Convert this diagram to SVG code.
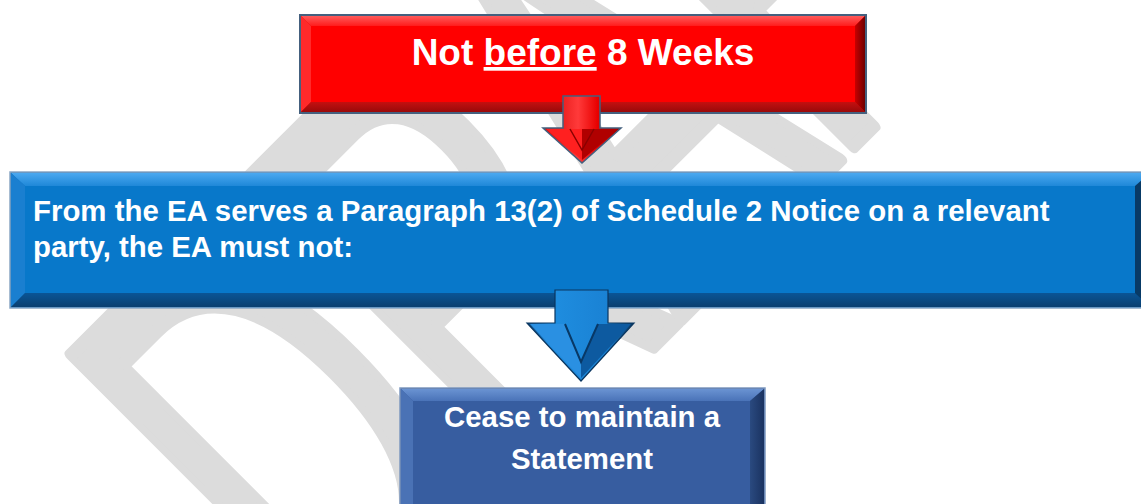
<svg xmlns="http://www.w3.org/2000/svg" width="1141" height="504" viewBox="0 0 1141 504">
  <defs>
    <style>
      .lbl { font-family: "Liberation Sans", Arial, sans-serif; font-weight: bold; fill: #ffffff; }
      .wm { font-family: "Liberation Sans", Arial, sans-serif; fill: #dcdcdc; stroke: #dcdcdc; stroke-width: 8; stroke-linejoin: round; }
    </style>
    <!-- red bevel -->
    <linearGradient id="redTop" x1="0" y1="0" x2="0" y2="1">
      <stop offset="0" stop-color="#ff5a5a"/>
      <stop offset="1" stop-color="#ff1c1c"/>
    </linearGradient>
    <linearGradient id="redRight" x1="0" y1="0" x2="1" y2="0">
      <stop offset="0" stop-color="#c80000"/>
      <stop offset="1" stop-color="#6e0000"/>
    </linearGradient>
    <linearGradient id="redBottom" x1="0" y1="0" x2="0" y2="1">
      <stop offset="0" stop-color="#c41010"/>
      <stop offset="1" stop-color="#9a0a0a"/>
    </linearGradient>
    <linearGradient id="redShaft" x1="0" y1="0" x2="1" y2="0">
      <stop offset="0" stop-color="#d40000"/>
      <stop offset="0.45" stop-color="#ff3a3a"/>
      <stop offset="0.7" stop-color="#e80000"/>
      <stop offset="1" stop-color="#8a0000"/>
    </linearGradient>
    <!-- blue bevel -->
    <linearGradient id="blueTop" x1="0" y1="0" x2="0" y2="1">
      <stop offset="0" stop-color="#4aa8f0"/>
      <stop offset="1" stop-color="#1f88d8"/>
    </linearGradient>
    <linearGradient id="blueBottom" x1="0" y1="0" x2="0" y2="1">
      <stop offset="0" stop-color="#0a5596"/>
      <stop offset="1" stop-color="#0a3f70"/>
    </linearGradient>
    <linearGradient id="blueShaft" x1="0" y1="0" x2="1" y2="0">
      <stop offset="0" stop-color="#0b4378"/>
      <stop offset="0.2" stop-color="#1f8ee0"/>
      <stop offset="0.75" stop-color="#1a82d4"/>
      <stop offset="1" stop-color="#08365f"/>
    </linearGradient>
    <!-- navy bevel -->
    <linearGradient id="navyTop" x1="0" y1="0" x2="0" y2="1">
      <stop offset="0" stop-color="#6a93d2"/>
      <stop offset="1" stop-color="#4a73b8"/>
    </linearGradient>
    <linearGradient id="navyRight" x1="0" y1="0" x2="1" y2="0">
      <stop offset="0" stop-color="#2a4a80"/>
      <stop offset="1" stop-color="#1a3260"/>
    </linearGradient>
  </defs>

  <rect width="1141" height="504" fill="#ffffff"/>

  <!-- background watermark -->
  <text class="wm" transform="translate(337,663) rotate(-45) scale(1,1.71)" font-size="345">DR<tspan dx="-14">A</tspan><tspan dx="-14">FT</tspan></text>

  <!-- top node -->
  <g id="node-not-before">
    <rect x="300" y="15" width="566" height="98" fill="#e00000" stroke="#44607e" stroke-width="2"/>
    <polygon points="301,16 865,16 855,26 311,26" fill="url(#redTop)"/>
    <polygon points="301,16 311,26 311,102 301,112" fill="#ff2a2a"/>
    <polygon points="865,16 865,112 855,102 855,26" fill="url(#redRight)"/>
    <polygon points="301,112 311,102 855,102 865,112" fill="url(#redBottom)"/>
    <rect x="311" y="26" width="544" height="76" fill="#ff0000"/>
    <text class="lbl" x="583" y="65" font-size="37" text-anchor="middle">Not <tspan text-decoration="underline">before</tspan> 8 Weeks</text>
  </g>

  <!-- middle node -->
  <g id="node-serves-notice">
    <rect x="10" y="172" width="1140" height="136" fill="#0b6fbf" stroke="#8aa6c4" stroke-width="1.5"/>
    <polygon points="11,173 1150,173 1150,186 25,186" fill="url(#blueTop)"/>
    <polygon points="11,173 25,186 25,293 11,307" fill="#1a7fd0"/>
    <polygon points="11,307 25,293 1150,293 1150,307" fill="url(#blueBottom)"/>
    <polygon points="1135,186 1150,173 1150,307 1135,293" fill="#083a66"/>
    <rect x="25" y="186" width="1110" height="107" fill="#0878ca"/>
    <text class="lbl" x="33" y="221" font-size="29.4">From the EA serves a Paragraph 13(2) of Schedule 2 Notice on a relevant</text>
    <text class="lbl" x="33" y="257" font-size="29.4">party, the EA must not:</text>
  </g>

  <!-- bottom node -->
  <g id="node-cease">
    <rect x="400" y="388" width="365" height="130" fill="#345a9c" stroke="#7d98bf" stroke-width="1.5"/>
    <polygon points="401,389 764,389 750,401 413,401" fill="url(#navyTop)"/>
    <polygon points="401,389 413,401 413,510 401,510" fill="#4a72b5"/>
    <polygon points="764,389 764,510 750,510 750,401" fill="url(#navyRight)"/>
    <rect x="413" y="401" width="337" height="109" fill="#375da0"/>
    <text class="lbl" x="582" y="427" font-size="29.4" text-anchor="middle">Cease to maintain a</text>
    <text class="lbl" x="582" y="469" font-size="29.4" text-anchor="middle">Statement</text>
  </g>

  <!-- connectors -->
  <g id="connectors">
    <g id="arrow-red">
      <polygon points="563,96 600,96 600,128 621,128 582,163 543,128 563,128" fill="url(#redShaft)" stroke="#44607e" stroke-width="1.5" stroke-linejoin="miter"/>
      <polygon points="546,129 582,129 582,160" fill="#ff2020"/>
      <polygon points="618,129 582,129 582,160" fill="#b00000"/>
      <polyline points="570,129 582,150 594,129" fill="none" stroke="#8a0000" stroke-width="1.5"/>
    </g>
    <g id="arrow-blue">
      <polygon points="555,290 608,290 608,323 634,323 581,381 527,323 555,323" fill="url(#blueShaft)" stroke="#0a3660" stroke-width="1.2"/>
      <polygon points="530,324 565,324 581,362 581,378" fill="#2a90e2"/>
      <polygon points="631,324 598,324 581,362 581,378" fill="#0d5aa0"/>
      <polyline points="565,324 581,362 598,324" fill="none" stroke="#083866" stroke-width="2"/>
    </g>
  </g>
</svg>
